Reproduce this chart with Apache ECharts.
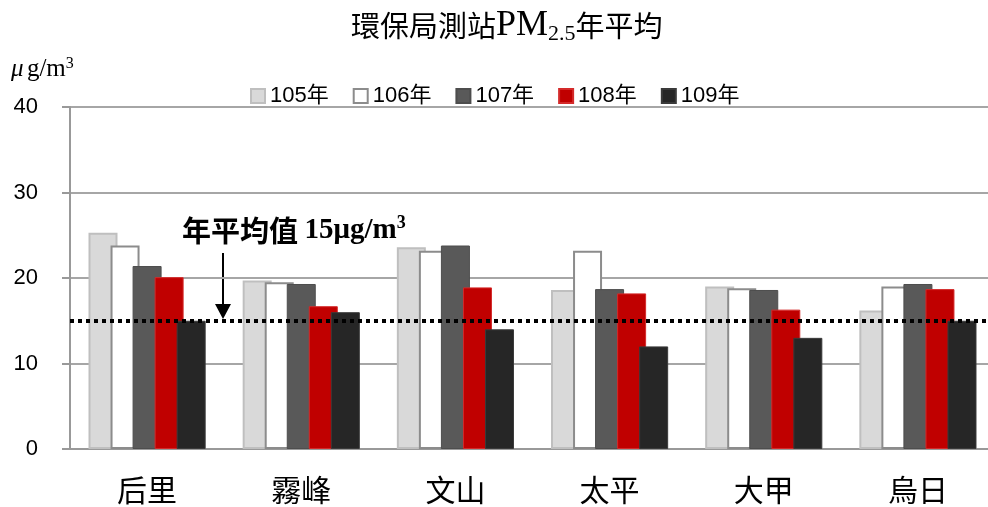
<!DOCTYPE html>
<html>
<head>
<meta charset="utf-8">
<script src="https://cdn.jsdelivr.net/npm/echarts@6/dist/echarts.min.js"></script>
<style>
  html, body { margin: 0; padding: 0; background: #fff; overflow: hidden; }
  /* plot runs a few px past the right edge of the window, like the original */
  #chart { width: 995px; height: 507px; }
</style>
</head>
<body>
<div id="chart"></div>
<script>
// stations and yearly PM2.5 averages
const stations = ['后里', '霧峰', '文山', '太平', '大甲', '烏日'];
const years = ['105年', '106年', '107年', '108年', '109年'];
const y105 = [25.3, 19.7, 23.6, 18.6, 19.0, 16.2];
const y106 = [23.8, 19.5, 23.2, 23.2, 18.8, 19.0];
const y107 = [21.4, 19.3, 23.8, 18.7, 18.6, 19.3];
const y108 = [20.1, 16.7, 18.9, 18.2, 16.3, 18.7];
const y109 = [15.0, 16.0, 14.0, 12.0, 13.0, 15.0];
const standard = 15;
const yTicks = [0, 10, 20, 30, 40];

const sansFont = '"Liberation Sans", "Noto Sans CJK TC", sans-serif';
const serifFont = '"Liberation Serif", "DejaVu Serif", "Noto Sans CJK TC", serif';
const cjkFont = '"Noto Sans CJK TC", sans-serif';

const chart = echarts.init(document.getElementById('chart'));

const barStyles = [
  { color: '#d9d9d9', borderColor: '#bfbfbf', borderWidth: 2 },
  { color: '#ffffff', borderColor: '#8c8c8c', borderWidth: 2 },
  { color: '#595959', borderColor: '#4d4d4d', borderWidth: 1 },
  { color: '#c00000', borderColor: '#d42a2a', borderWidth: 1 },
  { color: '#262626', borderColor: '#3a3a3a', borderWidth: 1 }
];
const values = [y105, y106, y107, y108, y109];

const series = years.map((name, i) => ({
  name: name,
  type: 'bar',
  barWidth: 29,
  barGap: '-24%',
  itemStyle: barStyles[i],
  data: values[i]
}));

// dotted standard line on top of everything
series[4].markLine = {
  silent: true,
  symbol: 'none',
  label: { show: false },
  lineStyle: { color: '#000', width: 4, type: [4, 4] },
  data: [{ yAxis: standard }]
};

const option = {
  backgroundColor: '#fff',
  animation: false,
  title: {
    left: 346,
    top: 2,
    text: '{a|環保局測站}{b|PM}{s|2.5}{a|年平均}',
    textStyle: {
      fontWeight: 'normal',
      rich: {
        a: { fontFamily: cjkFont, fontSize: 29, fontWeight: 'normal', color: '#000' },
        b: { fontFamily: serifFont, fontSize: 36, fontWeight: 'normal', color: '#000' },
        s: { fontFamily: serifFont, fontSize: 22, fontWeight: 'normal', color: '#000', padding: [16, 0, 0, 0] }
      }
    }
  },
  legend: {
    left: 245,
    top: 80,
    icon: 'rect',
    itemWidth: 14,
    itemHeight: 14,
    itemGap: 24,
    textStyle: { fontFamily: sansFont, fontSize: 22, color: '#000' },
    data: years
  },
  grid: { left: 70, right: 0, top: 107, bottom: 58 },
  xAxis: {
    type: 'category',
    data: stations,
    axisLine: { lineStyle: { color: '#999', width: 2 } },
    axisTick: { show: false },
    axisLabel: { fontFamily: cjkFont, fontSize: 30, color: '#000', margin: 26 }
  },
  yAxis: {
    type: 'value',
    min: yTicks[0],
    max: yTicks[yTicks.length - 1],
    interval: 10,
    axisLine: { show: true, lineStyle: { color: '#999', width: 2 } },
    axisTick: { show: true, length: 8, lineStyle: { color: '#999', width: 2 } },
    splitLine: { lineStyle: { color: '#a6a6a6', width: 2 } },
    axisLabel: { fontFamily: sansFont, fontSize: 22, color: '#000', margin: 32 }
  },
  graphic: [
    {
      type: 'text',
      left: 11,
      top: 56,
      style: {
        text: '{m|μ} {u|g/m}{p|3}',
        rich: {
          m: { fontFamily: serifFont, fontSize: 25, fontStyle: 'italic', fill: '#000' },
          u: { fontFamily: serifFont, fontSize: 25, fill: '#000' },
          p: { fontFamily: serifFont, fontSize: 16, fill: '#000', padding: [0, 0, 11, 0] }
        }
      }
    },
    {
      type: 'text',
      left: 182,
      top: 214,
      style: {
        text: '{c|年平均值 }{n|15μg/m}{p|3}',
        rich: {
          c: { fontFamily: cjkFont, fontSize: 29, fontWeight: 'bold', fill: '#000' },
          n: { fontFamily: serifFont, fontSize: 29, fontWeight: 'bold', fill: '#000' },
          p: { fontFamily: serifFont, fontSize: 18, fontWeight: 'bold', fill: '#000', padding: [0, 0, 15, 0] }
        }
      }
    },
    {
      type: 'line',
      shape: { x1: 223, y1: 253, x2: 223, y2: 306 },
      style: { stroke: '#000', lineWidth: 2 }
    },
    {
      type: 'polygon',
      shape: { points: [[215, 304], [231, 304], [223, 319]] },
      style: { fill: '#000' }
    }
  ],
  series: series
};

chart.setOption(option);
</script>
</body>
</html>
